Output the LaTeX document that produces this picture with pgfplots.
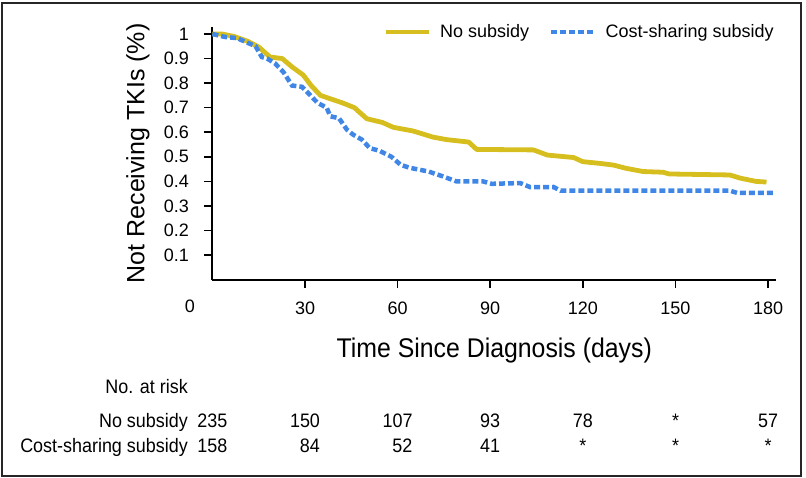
\documentclass[border=0pt]{standalone}
\usepackage{fontspec}
\setmainfont{Liberation Sans}
\newfontfamily\cond[FakeStretch=0.92]{Liberation Sans}
\usepackage{pgfplots}
\pgfplotsset{compat=1.18}
\definecolor{yel}{RGB}{214,190,30}
\definecolor{blu}{RGB}{64,134,230}

\begin{document}
\begin{tikzpicture}
\begin{axis}[
  scale only axis, width=563.7pt, height=252.5pt,
  xmin=0, xmax=182.6, ymin=0, ymax=1.028,
  axis x line*=bottom, axis y line*=left,
  axis line style={line width=2pt, black},
  xtick={30,60,90,120,150,180},
  ytick={0.1,0.2,0.3,0.4,0.5,0.6,0.7,0.8,0.9,1},
  xtick pos=bottom, ytick pos=left,
  tick align=outside, major tick length=8pt,
  every tick/.append style={draw=black, line width=1.5pt},
  xtick style={draw=black, line width=1.5pt},
  ytick style={draw=black, line width=1.5pt},
  tick label style={font=\fontsize{18}{20}\selectfont},
  /pgf/number format/assume math mode=true,
  yticklabel style={anchor=east, inner sep=0pt, xshift=-15.4pt},
  xticklabel style={anchor=base, inner sep=0pt, yshift=-27.4pt},
  xlabel={Time Since Diagnosis (days)},
  xlabel style={font=\cond\fontsize{27}{30}\selectfont, at={(axis description cs:0.5,0)}, anchor=base, yshift=-78.4pt, inner sep=0pt},
  ylabel={Not Receiving TKIs (\%)},
  ylabel style={font=\fontsize{25}{28}\selectfont, at={(axis description cs:-0.132,0.5)}, anchor=center, inner sep=0pt},
  legend style={at={(axis cs:55.3,1.008)}, anchor=west, draw=none, fill=none, inner sep=0pt,
    font=\fontsize{18}{20}\selectfont, nodes={inner sep=0pt},
    /tikz/every odd column/.append style={column sep=9pt},
    /tikz/every even column/.append style={column sep=20pt}},
  legend columns=2, legend cell align=left,
  legend image code/.code={\draw[#1] (0pt,0pt) -- (43pt,0pt);},
  clip=false,
]
\addplot[yel, line width=4.8pt, line join=round] coordinates {
  (0,1.0) (3,1.0) (7,0.99) (11.5,0.97) (15,0.947) (18.7,0.906) (22.6,0.90)
  (25.8,0.866) (29.4,0.833) (32,0.79) (35,0.75) (38,0.737) (42,0.72) (46,0.70)
  (50,0.655) (55,0.64) (58.6,0.62) (65,0.605) (71.5,0.58) (75.8,0.57) (83,0.56)
  (85.6,0.53) (104,0.528) (108.5,0.507) (117,0.497) (120,0.48) (125.6,0.473)
  (130,0.466) (134,0.453) (139.5,0.44) (146,0.437) (148,0.43) (167.6,0.426)
  (171,0.413) (176,0.40) (179.5,0.397)
};
\addlegendentry{No subsidy}
\addplot[blu, line width=4.5pt, dash pattern=on 6pt off 3pt] coordinates {
  (0,1.0) (4,0.988) (8,0.983) (11.6,0.963) (14,0.95) (16,0.906) (17.7,0.90)
  (20.3,0.88) (23,0.845) (25.8,0.79) (29,0.785) (31,0.76) (34,0.72) (37,0.70)
  (38.2,0.665) (41,0.657) (43.6,0.61) (45.6,0.59) (48.4,0.57) (51,0.535)
  (54,0.525) (58,0.50) (61,0.467) (64,0.455) (70,0.44) (74.7,0.42) (79,0.40)
  (87.6,0.40) (90.5,0.39) (99.7,0.393) (103,0.376) (110.5,0.377) (112.8,0.362)
  (167.6,0.362) (170,0.353) (182,0.353)
};
\addlegendentry{Cost-sharing subsidy}
\end{axis}
% zero label left of the corner
\node[font=\fontsize{18}{20}\selectfont, anchor=base, inner sep=0pt] at (-22.4pt,-33.4pt) {0};
% number at risk table
\begin{scope}[every node/.style={inner sep=0pt, font=\cond\fontsize{19.5}{22}\selectfont}]
\node[anchor=base east] at (-24.4pt,-114.4pt) {No. at risk};
\node[anchor=base east] at (-24.4pt,-148.4pt) {No subsidy};
\node[anchor=base east] at (-24.4pt,-173.4pt) {Cost-sharing subsidy};
\node[anchor=base] at (0pt,-148.4pt) {235};
\node[anchor=base] at (92.6pt,-148.4pt) {150};
\node[anchor=base] at (185.2pt,-148.4pt) {107};
\node[anchor=base] at (277.8pt,-148.4pt) {93};
\node[anchor=base] at (370.4pt,-148.4pt) {78};
\node[anchor=base] at (463.1pt,-148.4pt) {*};
\node[anchor=base] at (555.7pt,-148.4pt) {57};
\node[anchor=base] at (0pt,-173.4pt) {158};
\node[anchor=base east] at (107.6pt,-173.4pt) {84};
\node[anchor=base east] at (200.2pt,-173.4pt) {52};
\node[anchor=base] at (277.8pt,-173.4pt) {41};
\node[anchor=base] at (370.4pt,-173.4pt) {*};
\node[anchor=base] at (463.1pt,-173.4pt) {*};
\node[anchor=base] at (555.7pt,-173.4pt) {*};
\end{scope}
\draw[line width=2pt, black!85] (-210.4pt,-196.4pt) rectangle (588.6pt,276.6pt);
\pgfresetboundingbox
\path[use as bounding box] (-212.4pt,-198.4pt) rectangle (593.6pt,279.6pt);
\end{tikzpicture}
\end{document}
